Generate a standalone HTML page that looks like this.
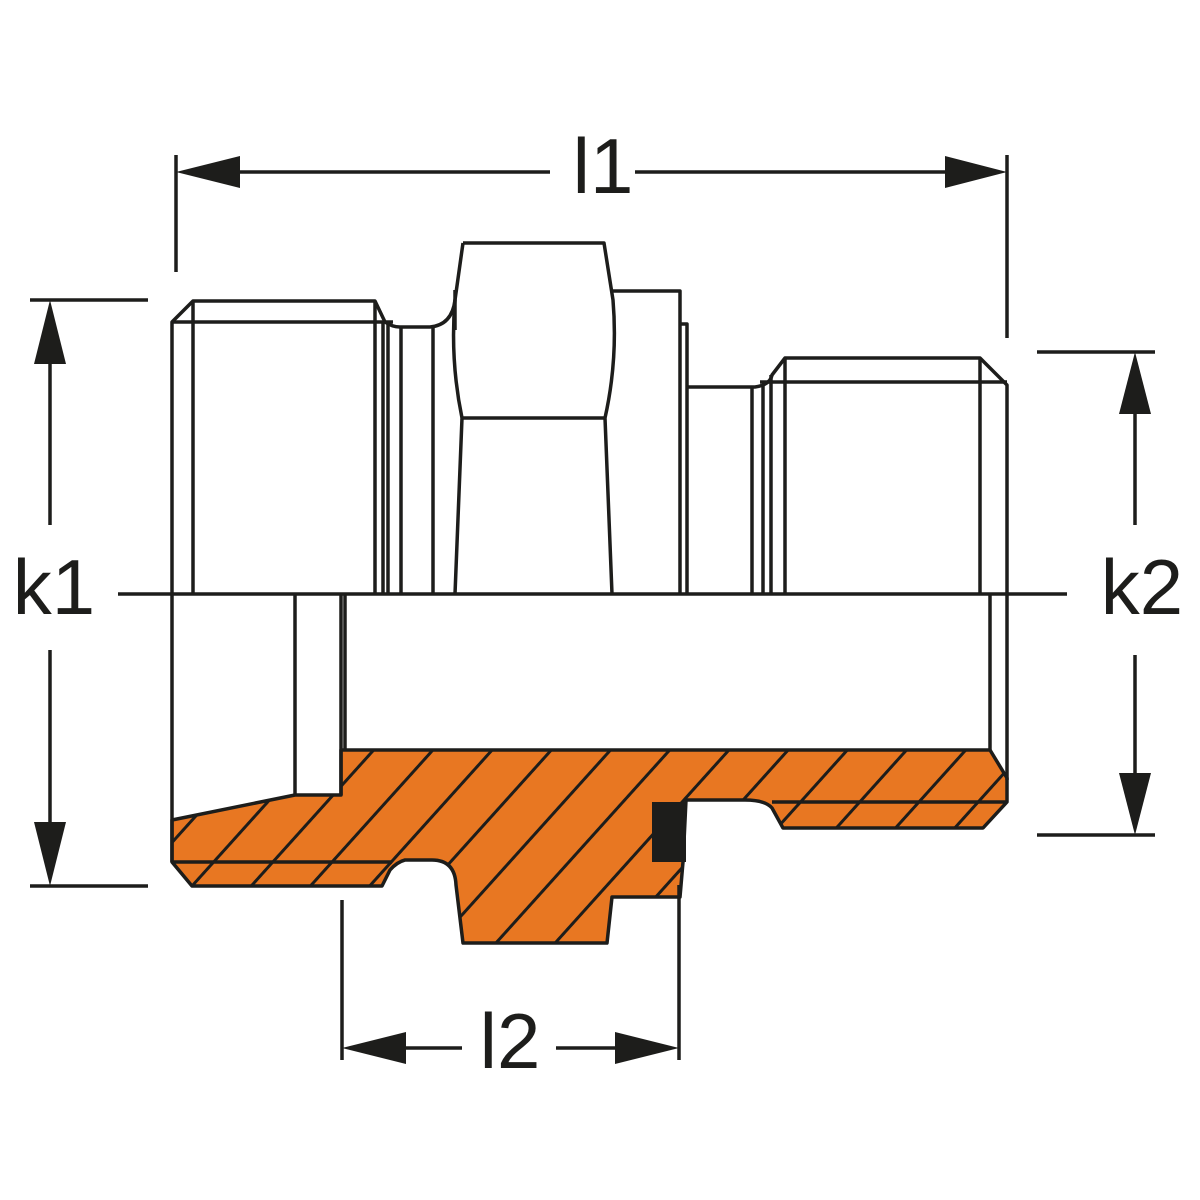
<!DOCTYPE html>
<html><head><meta charset="utf-8"><style>html,body{margin:0;padding:0;background:#fff}svg{display:block}text{font-family:"Liberation Sans",sans-serif;fill:#1d1d1b}</style></head>
<body>
<svg width="1200" height="1200" viewBox="0 0 1200 1200" xmlns="http://www.w3.org/2000/svg">
<defs>
<pattern id="h" patternUnits="userSpaceOnUse" width="200" height="44" patternTransform="translate(190,886) rotate(-48)">
<rect width="200" height="44" fill="#E87722"/>
<line x1="0" y1="1.5" x2="200" y2="1.5" stroke="#1d1d1b" stroke-width="3"/>
</pattern>
</defs>
<g stroke="#1d1d1b" stroke-width="3.5" fill="none" stroke-linejoin="round">
<path d="M172,820 L295,795 L341,795 L341,750 L990,750 L1007,778 L1007,802 L983,828 L783,828 L772,808 Q765,800 745,800 L686,800 L683,862 L680,897 L612,897 L607,943 L463,943 L456,885 Q455,860 432,860 L405,860 Q397,862 390,870 L382,886 L192,886 L172,862 Z" fill="url(#h)"/>
<line x1="172" y1="862" x2="392" y2="862"/>
<line x1="772" y1="802" x2="1007" y2="802"/>
<rect x="652" y="802" width="34" height="60" fill="#1d1d1b" stroke="none"/>
<line x1="172" y1="594" x2="172" y2="862"/>
<path d="M295,594 L295,795 M341,594 L341,795 M345,594 L345,750"/>
<line x1="990" y1="594" x2="990" y2="750"/>
<line x1="1007" y1="594" x2="1007" y2="780"/>
<path d="M172,594 L172,322 L193,301 L375,301 L385,322 Q392,327 400,327 L430,327 Q452,325 455,300"/>
<line x1="172" y1="322" x2="393" y2="322"/>
<path d="M193,301 V594 M375,301 V594 M383,322 V594 M388,322 V594 M401,327 V594 M433,327 V594"/>
<path d="M463,243 L604,243 L613,300 Q618,360 605,418 L612,594"/>
<path d="M463,243 L455,300 Q450,360 462,418 L455,594"/>
<path d="M455,290 V330"/>
<line x1="462" y1="418" x2="605" y2="418"/>
<path d="M613,291 L680,291 L680,594 M680,324 L687,324 L687,594"/>
<path d="M687,387 L755,387 Q770,385 772,375 L785,358 L980,358 L1007,385 L1007,594"/>
<line x1="760" y1="382" x2="1007" y2="382"/>
<path d="M752,387 V594 M763,385 V594 M771,375 V594 M785,358 V594 M980,358 V594"/>
<line x1="118" y1="594" x2="1067" y2="594"/>
<path d="M176,155 V272 M1007,155 V338"/>
<path d="M238,172 H550 M635,172 H945"/>
<path d="M30,300 H148 M30,886 H148 M50,362 V525 M50,650 V824"/>
<path d="M1037,352 H1155 M1037,835 H1155 M1135,414 V525 M1135,655 V773"/>
<path d="M342,900 V1060 M679,885 V1060 M404,1048 H462 M556,1048 H617"/>
</g>
<g fill="#1d1d1b">
<polygon points="176,172 240,156 240,188"/>
<polygon points="1007,172 945,156 945,188"/>
<polygon points="50,300 34,364 66,364"/>
<polygon points="50,886 34,822 66,822"/>
<polygon points="1135,352 1119,414 1151,414"/>
<polygon points="1135,835 1119,773 1151,773"/>
<polygon points="342,1048 406,1032 406,1064"/>
<polygon points="679,1048 615,1032 615,1064"/>
</g>
<text x="603" y="193" font-size="78" text-anchor="middle">l1</text>
<text x="54" y="614" font-size="78" text-anchor="middle">k1</text>
<text x="1142" y="614" font-size="78" text-anchor="middle">k2</text>
<text x="510" y="1068" font-size="78" text-anchor="middle">l2</text>
</svg>
</body></html>
